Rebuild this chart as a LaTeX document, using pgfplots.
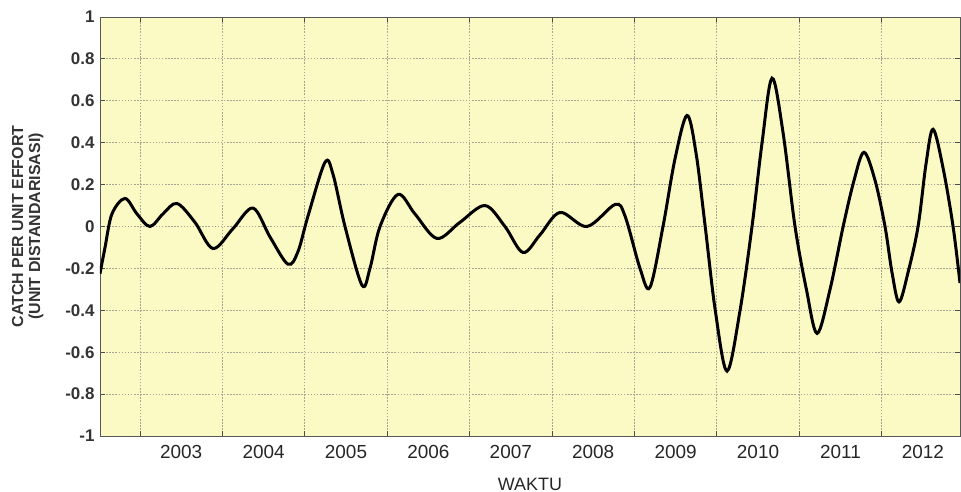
\documentclass[border=0pt]{standalone}
\usepackage{fontspec}
\setmainfont{Liberation Sans}
\usepackage{pgfplots}
\pgfplotsset{compat=1.18}
\definecolor{panel}{RGB}{252,250,196}
\definecolor{gridc}{RGB}{165,165,150}

\begin{document}
\begin{tikzpicture}
\begin{axis}[
    name=main,
    scale only axis,
    width=860bp, height=419bp,
    xmin=2002.515, xmax=2012.951,
    ymin=-1, ymax=1,
    axis background/.style={fill=panel},
    axis line style={gray!70!black, line width=0.8bp},
    xtick={2003,...,2012},
    xticklabels={},
    extra x ticks={2003.5,2004.5,2005.5,2006.5,2007.5,2008.5,2009.5,2010.5,2011.5,2012.5},
    extra x tick labels={2003,2004,2005,2006,2007,2008,2009,2010,2011,2012},
    extra x tick style={major tick length=0pt, grid=none},
    ytick={-1,-0.8,...,1},
    yticklabels={-1,-0.8,-0.6,-0.4,-0.2,0,0.2,0.4,0.6,0.8,1},
    xmajorgrids, ymajorgrids,
    major grid style={gridc, line width=0.9bp, dash pattern=on 1.5bp off 1.6bp},
    tick pos=both, tick align=inside,
    major tick length=5bp,
    tick style={gray!60!black, line width=0.9bp},
    x tick label style={font=\fontsize{19}{19}\selectfont, text=black!85, yshift=-6bp},
    y tick label style={font=\fontsize{17}{17}\selectfont\bfseries, text=black!80, xshift=-2bp},
    xlabel={WAKTU},
    xlabel style={font=\fontsize{18}{18}\selectfont, text=black!85, yshift=-12bp},
    ylabel={CATCH PER UNIT EFFORT\\(UNIT DISTANDARISASI)},
    ylabel style={font=\fontsize{16}{17}\selectfont\bfseries, text=black!80, align=center,
        at={(axis description cs:-0.084,0.5)}, anchor=center},
    clip=true,
]
\addplot[black, line width=3bp, smooth, tension=0.55] table[x=u, y=v] {
u v
2002.515 -0.225
2002.576 -0.10
2002.660 0.06
2002.818 0.134
2002.964 0.06
2003.121 0.0
2003.279 0.06
2003.449 0.11
2003.667 0.02
2003.886 -0.105
2004.129 -0.01
2004.371 0.088
2004.578 -0.05
2004.796 -0.18
2004.917 -0.12
2005.039 0.05
2005.245 0.306
2005.342 0.25
2005.488 0.0
2005.694 -0.28
2005.791 -0.20
2005.913 0.0
2006.131 0.153
2006.337 0.06
2006.604 -0.057
2006.883 0.02
2007.187 0.10
2007.429 0.0
2007.648 -0.124
2007.854 -0.04
2008.097 0.067
2008.425 0.0
2008.765 0.105
2008.886 0.05
2009.068 -0.20
2009.189 -0.29
2009.347 0.0
2009.491 0.32
2009.638 0.53
2009.748 0.35
2009.859 0.0
2009.981 -0.40
2010.124 -0.69
2010.282 -0.40
2010.427 0.0
2010.549 0.40
2010.670 0.708
2010.803 0.45
2010.949 0.0
2011.087 -0.30
2011.217 -0.51
2011.374 -0.30
2011.533 0.0
2011.665 0.22
2011.786 0.354
2011.920 0.22
2012.041 0.0
2012.126 -0.22
2012.211 -0.36
2012.320 -0.22
2012.442 0.0
2012.539 0.30
2012.624 0.464
2012.745 0.28
2012.867 0.0
2012.951 -0.27
};
\end{axis}
\pgfresetboundingbox
\path ([shift={(-100bp,-56bp)}]main.south west) rectangle ([shift={(1bp,17bp)}]main.north east);
\end{tikzpicture}
\end{document}
